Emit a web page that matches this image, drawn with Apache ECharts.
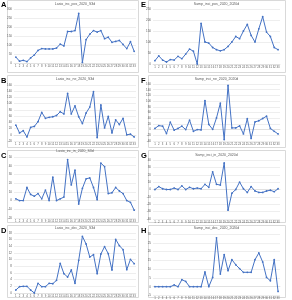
<!DOCTYPE html>
<html>
<head>
<meta charset="utf-8">
<script src="https://cdn.jsdelivr.net/npm/echarts@6/dist/echarts.min.js"></script>
<style>
  html, body { margin: 0; padding: 0; background: #fff; }
  #main { width: 292px; height: 300px; }
</style>
</head>
<body>
<div id="main"></div>
<script>
document.addEventListener('DOMContentLoaded', function () {
    var chart = echarts.init(document.getElementById('main'));

    // categorias do eixo x (1..33)
    var categories = ['1','2','3','4','5','6','7','8','9','10','11','12','13','14','15','16','17',
        '18','19','20','21','22','23','24','25','26','27','28','29','30','31','32','33'];

    // valores
    var lasioIncPos = [33, 10, 15, 8, 28, 45, 70, 80, 78, 78, 78, 83, 105, 95, 175, 175, 180, 275, 3,
        130, 160, 180, 172, 180, 135, 143, 115, 120, 125, 103, 80, 118, 65];
    var sampInciPos = [15, 37, 18, 9, 20, 18, 35, 24, 45, 68, 58, 0, 185, 100, 95, 75, 65, 60, 65,
        80, 100, 125, 115, 150, 180, 130, 100, 160, 215, 145, 125, 75, 65];
    var lasioIncNe = [31, 6, 13, -7, 24, 27, 42, 72, 53, 56, 58, 62, 74, 67, 133, 67, 93, 58, 36,
        70, 89, 139, -9, 96, 22, 59, 6, 48, 33, 53, 0, 2, -7];
    var sampInciNe = [4, 14, 12, -14, 26, -2, 4, 12, 0, 33, -6, 0, -1, 102, 18, 1, 41, 93, -35,
        155, 6, 6, 13, -15, 38, -31, 27, 31, 39, 47, 4, -6, -15];
    var lasioIncIn = [2, 0, 0, 15, 7, 5, 8, 2, 12, 0, 27, 0, 2, 4, 47, 18, 35, -4, 14,
        25, 26, 15, 1, 43, 39, 8, 9, 15, 11, 8, 0, -2, -11];
    var sampInciIn = [0, 4, 1, 0, 0, 2, 0, 5, 0, 3, 1, 2, 1, 7, 3, 24, 7, 6, 36,
        -28, -5, 0, 10, 1, -4, 4, -2, -4, -4, -2, -1, -3, 1];
    var lasioIncDec = [0.9, 1.9, 2.0, 2.0, 0.9, 0, 2.9, 1.9, 1.9, 2.9, 2.8, 3.8, 8.9, 5.8, 4.8, 6.9, 2.9,
        9.8, 17, 14.7, 10.8, 11.5, 5.8, 11.7, 13.9, 11.8, 6.9, 16.1, 14.2, 13, 7, 10.1, 8.8];
    var sampInciDec = [0, 0, 0, 0, 0, 1, 0, 4, 3, 0, 0, 0, 0, 8.4, 0, 5.3, 27.8, 7.2, 18.3,
        9.1, 15.4, 12.5, 10.3, 8.2, 8.2, 8.2, 15.4, 19.2, 14.1, 5.3, 3.4, 15.4, -2.7];

    var panelLetters = ['A', 'E', 'B', 'F', 'C', 'G', 'D', 'H'];
    var panelTitles = ['Lasio_inc_pos_2020_S3d', 'Samp_inci_pos_2020_2020d',
        'Lasio_inc_ne_2020_S3d', 'Samp_inci_ne_2020_2020d',
        'Lasio_inc_in_2020_S3d', 'Samp_inci_in_2020_2020d',
        'Lasio_inc_dec_2020_S3d', 'Samp_inci_dec_2020_2020d'];
    var panelData = [lasioIncPos, sampInciPos, lasioIncNe, sampInciNe,
        lasioIncIn, sampInciIn, lasioIncDec, sampInciDec];
    var yMin = [0, 0, -20, -40, -20, -40, 0, -5];
    var yMax = [300, 250, 160, 160, 50, 40, 18, 30];
    var yStep = [50, 50, 20, 20, 10, 10, 2, 5];

    // layout de cada painel: [topo do grid, altura do grid, y do titulo]
    var layout = [
        [9, 54, 4], [9, 55, 4],
        [85, 56, 79], [84, 57, 79],
        [157, 61, 151], [160, 59, 155],
        [233, 60, 228], [234, 62, 228]
    ];
    var letterY = [1, 1, 77, 77, 152, 152, 227, 227];

    var blue = '#4472C4';
    var grey = '#595959';
    var font = 'Liberation Sans';

    var grids = [], xAxes = [], yAxes = [], series = [], graphics = [];

    for (var i = 0; i < 8; i++) {
        var col = i % 2;
        var row = Math.floor(i / 2);
        var gLeft = col === 0 ? 14 : 153;
        var gWidth = col === 0 ? 122 : 127;

        // moldura do painel
        graphics.push({
            type: 'rect',
            shape: { x: col === 0 ? 7.5 : 148.5, y: row * 75 + 0.5, width: col === 0 ? 131 : 137, height: 72 },
            style: { fill: 'none', stroke: '#d9d9d9', lineWidth: 1 },
            z: 0
        });
        // letra do painel
        graphics.push({
            type: 'text',
            x: col === 0 ? 1 : 141,
            y: letterY[i],
            style: { text: panelLetters[i], fontSize: 7.5, fontWeight: 'bold', fontFamily: font, fill: '#000' }
        });
        // titulo
        graphics.push({
            type: 'text',
            x: gLeft + gWidth / 2,
            y: layout[i][2],
            style: { text: panelTitles[i], fontSize: 3.5, fontFamily: font, fill: grey, align: 'center', verticalAlign: 'middle' }
        });

        grids.push({ left: gLeft, top: layout[i][0], width: gWidth, height: layout[i][1] });

        xAxes.push({
            type: 'category',
            gridIndex: i,
            data: categories,
            boundaryGap: true,
            axisLine: { onZero: true, lineStyle: { color: '#d9d9d9', width: 0.6 } },
            axisTick: { show: false },
            axisLabel: { interval: 0, fontSize: 2.8, color: grey, fontFamily: font, margin: 1.5, hideOverlap: false }
        });

        yAxes.push({
            type: 'value',
            gridIndex: i,
            min: yMin[i],
            max: yMax[i],
            interval: yStep[i],
            axisLine: { show: false },
            axisTick: { show: false },
            splitLine: { lineStyle: { color: '#e3e3e3', width: 0.6 } },
            axisLabel: { fontSize: 3, color: grey, fontFamily: font, margin: 2 }
        });

        series.push({
            type: 'line',
            xAxisIndex: i,
            yAxisIndex: i,
            data: panelData[i],
            symbol: 'circle',
            symbolSize: 1.8,
            showSymbol: true,
            itemStyle: { color: blue },
            lineStyle: { color: blue, width: 1 },
            animation: false
        });
    }

    var option = {
        backgroundColor: '#fff',
        animation: false,
        grid: grids,
        xAxis: xAxes,
        yAxis: yAxes,
        series: series,
        graphic: graphics
    };

    chart.setOption(option);
});
</script>
</body>
</html>
